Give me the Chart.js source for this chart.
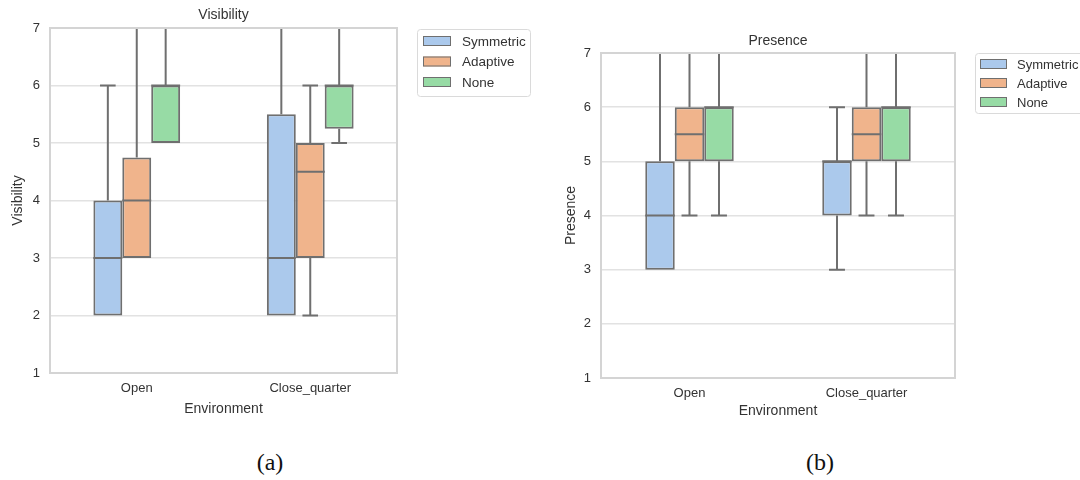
<!DOCTYPE html>
<html>
<head>
<meta charset="utf-8">
<script src="https://cdn.jsdelivr.net/npm/chart.js@4.4.1/dist/chart.umd.min.js"></script>
<style>
    body { margin: 0; background: #fff; }
    #page { position: relative; width: 1080px; height: 480px; overflow: hidden; }
    .panel { position: absolute; top: 0; width: 540px; height: 430px; }
    .caption { position: absolute; top: 449px; font-family: 'Liberation Serif', 'DejaVu Serif', serif; font-size: 24px; color: #111; transform: translateX(-50%); }
</style>
</head>
<body>
<div id="page">
    <div class="panel" style="left:0"><canvas id="visChart" width="540" height="430"></canvas></div>
    <div class="panel" style="left:540px"><canvas id="preChart" width="540" height="430"></canvas></div>
    <div class="caption" style="left:270px">(a)</div>
    <div class="caption" style="left:820px">(b)</div>
</div>
<script>
const environments = ['Open', 'Close_quarter'];
const methods = ['Symmetric', 'Adaptive', 'None'];
const yTicks = [1, 2, 3, 4, 5, 6, 7];

// each entry: [whisker low, q1, median, q3, whisker high], one per environment
const visSymmetric = [[2, 2, 3, 4, 6], [2, 2, 3, 5.5, 7]];
const visAdaptive = [[3, 3, 4, 4.75, 7], [2, 3, 4.5, 5, 6]];
const visNone = [[5, 5, 6, 6, 7], [5, 5.25, 6, 6, 7]];

const preSymmetric = [[3, 3, 4, 5, 7], [3, 4, 5, 5, 6]];
const preAdaptive = [[4, 5, 5.5, 6, 7], [4, 5, 5.5, 6, 7]];
const preNone = [[4, 5, 6, 6, 7], [4, 5, 6, 6, 7]];

const fills = ['#abc9ec', '#f0b48c', '#97dba5'];
const edge = '#6f6f6f';
const textColor = '#333';
const fontFamily = "'Liberation Sans', Arial, sans-serif";

// title, whiskers, caps, medians, frame and legend around the floating bars
const boxPlotExtras = {
    id: 'boxPlotExtras',
    afterDatasetsDraw(chart, args, opts) {
        const {ctx, chartArea} = chart;
        const y = chart.scales.y;
        const w = chartArea.right - chartArea.left;
        const h = chartArea.bottom - chartArea.top;

        ctx.save();
        ctx.beginPath();
        ctx.rect(chartArea.left, chartArea.top, w, h);
        ctx.clip();
        ctx.strokeStyle = edge;
        ctx.lineWidth = 2;
        chart.data.datasets.forEach((ds, i) => {
            chart.getDatasetMeta(i).data.forEach((bar, j) => {
                const [lo, q1, med, q3, hi] = ds.stats[j];
                const half = bar.width / 2;
                const cap = bar.width * 0.27;
                ctx.beginPath();
                ctx.moveTo(bar.x - half, y.getPixelForValue(med));
                ctx.lineTo(bar.x + half, y.getPixelForValue(med));
                if (hi > q3) {
                    ctx.moveTo(bar.x, y.getPixelForValue(q3));
                    ctx.lineTo(bar.x, y.getPixelForValue(hi));
                    ctx.moveTo(bar.x - cap, y.getPixelForValue(hi));
                    ctx.lineTo(bar.x + cap, y.getPixelForValue(hi));
                }
                if (lo < q1) {
                    ctx.moveTo(bar.x, y.getPixelForValue(q1));
                    ctx.lineTo(bar.x, y.getPixelForValue(lo));
                    ctx.moveTo(bar.x - cap, y.getPixelForValue(lo));
                    ctx.lineTo(bar.x + cap, y.getPixelForValue(lo));
                }
                ctx.stroke();
            });
        });
        ctx.restore();

        ctx.save();
        ctx.strokeStyle = '#d4d4d4';
        ctx.lineWidth = 2;
        ctx.strokeRect(chartArea.left, chartArea.top, w, h);

        ctx.fillStyle = textColor;
        ctx.font = '14px ' + fontFamily;
        ctx.textAlign = 'center';
        ctx.textBaseline = 'middle';
        ctx.fillText(opts.title, chartArea.left + w / 2, chartArea.top - opts.titleOffset);

        // legend
        const lx = chartArea.right + opts.gap;
        const ly = chartArea.top + opts.top;
        ctx.fillStyle = '#fff';
        ctx.strokeStyle = '#dadada';
        ctx.lineWidth = 1;
        ctx.beginPath();
        ctx.roundRect(lx + 0.5, ly + 0.5, opts.width, opts.height, 3);
        ctx.fill();
        ctx.stroke();
        ctx.font = opts.fontSize + 'px ' + fontFamily;
        ctx.textAlign = 'left';
        chart.data.datasets.forEach((ds, i) => {
            const cy = ly + opts.firstRow + i * opts.rowGap;
            ctx.fillStyle = ds.backgroundColor;
            ctx.strokeStyle = edge;
            ctx.lineWidth = 1;
            ctx.fillRect(lx + opts.swatchX, cy - 5, opts.swatchW, 10);
            ctx.strokeRect(lx + opts.swatchX + 0.5, cy - 4.5, opts.swatchW - 1, 9);
            ctx.fillStyle = textColor;
            ctx.fillText(ds.label, lx + opts.textX, cy + 1);
        });
        ctx.restore();
    }
};

function makeChart(canvasId, title, yLabel, series, layout) {
    const datasets = series.map((stats, i) => ({
        label: methods[i],
        data: stats.map(s => [s[1], s[3]]),
        stats: stats,
        backgroundColor: fills[i],
        borderColor: edge,
        borderWidth: 2,
        borderSkipped: false,
        categoryPercentage: 0.5,
        barPercentage: 1.0
    }));

    return new Chart(document.getElementById(canvasId), {
        type: 'bar',
        data: { labels: environments, datasets: datasets },
        options: {
            responsive: false,
            animation: false,
            events: [],
            layout: { padding: { left: 0, right: layout.right, top: layout.top, bottom: 0 } },
            scales: {
                x: {
                    grid: { display: false },
                    border: { display: false },
                    ticks: { color: textColor, padding: 0, font: { size: 13, family: fontFamily } },
                    title: {
                        display: true,
                        text: 'Environment',
                        color: textColor,
                        padding: { top: 0, bottom: layout.xTitleBottom },
                        font: { size: 14, family: fontFamily }
                    },
                    afterFit: s => { s.height = layout.xHeight; }
                },
                y: {
                    min: 1,
                    max: 7,
                    afterBuildTicks: s => { s.ticks = yTicks.map(v => ({ value: v })); },
                    grid: { color: '#e2e2e2', lineWidth: 1.4, drawTicks: false },
                    border: { display: false },
                    ticks: { color: textColor, padding: 10, font: { size: 13, family: fontFamily } },
                    title: {
                        display: true,
                        text: yLabel,
                        color: textColor,
                        padding: { top: layout.yTitleTop, bottom: 0 },
                        font: { size: 14, family: fontFamily }
                    },
                    afterFit: s => { s.width = layout.yWidth; }
                }
            },
            plugins: {
                legend: { display: false },
                tooltip: { enabled: false },
                title: { display: false },
                boxPlotExtras: Object.assign({ title: title }, layout.extras)
            }
        },
        plugins: [boxPlotExtras]
    });
}

makeChart('visChart', 'Visibility', 'Visibility', [visSymmetric, visAdaptive, visNone], {
    right: 143, top: 28, yWidth: 50, xHeight: 57, yTitleTop: 10, xTitleBottom: 12,
    extras: { titleOffset: 13, gap: 20, top: 1, width: 113, height: 67, swatchX: 6, swatchW: 28, textX: 45, firstRow: 12, rowGap: 20.5, fontSize: 13.5 }
});

makeChart('preChart', 'Presence', 'Presence', [preSymmetric, preAdaptive, preNone], {
    right: 125, top: 53, yWidth: 61, xHeight: 52, yTitleTop: 22.6, xTitleBottom: 10,
    extras: { titleOffset: 12, gap: 20, top: 0, width: 120, height: 60, swatchX: 5, swatchW: 27, textX: 42, firstRow: 11, rowGap: 19, fontSize: 13 }
});
</script>
</body>
</html>
